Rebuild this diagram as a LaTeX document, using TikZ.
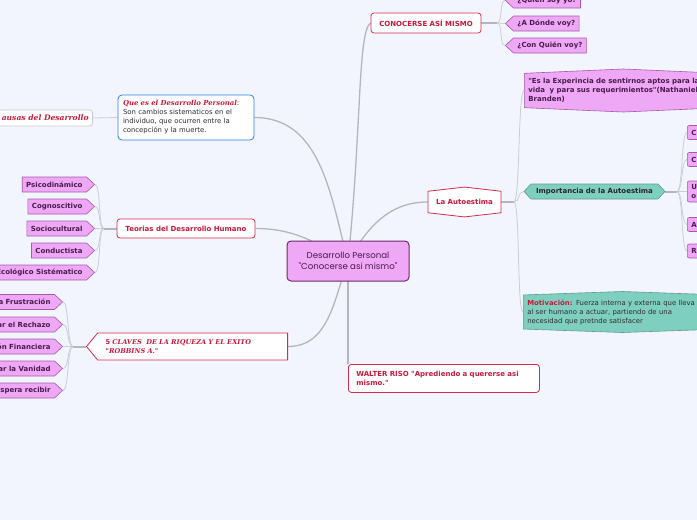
\documentclass[tikz,border=0pt]{standalone}
\usepackage{fontspec}
\newfontfamily\labf{DejaVu Sans}
\newfontfamily\serf{DejaVu Serif}
\newfontfamily\cenf{Poppins}
\usetikzlibrary{shapes.symbols,backgrounds}
\definecolor{bgc}{HTML}{F2F5FD}
\definecolor{redt}{HTML}{C8183C}
\definecolor{redb}{HTML}{D42C4C}
\definecolor{pinkf}{HTML}{EFA8F5}
\definecolor{pinkb}{HTML}{A45CA8}
\definecolor{purt}{HTML}{4A1A4E}
\definecolor{cenb}{HTML}{6A2A6C}
\definecolor{tealf}{HTML}{7FCFC0}
\definecolor{tealb}{HTML}{5E9A90}
\definecolor{blueb}{HTML}{2A80E6}
\definecolor{greyb}{HTML}{CACAD2}
\definecolor{linec}{HTML}{B6B6BA}
\definecolor{sublc}{HTML}{CDCDD2}
\definecolor{darkt}{HTML}{2E2E2E}
\tikzset{
 lab/.style={font=\labf\bfseries\fontsize{7}{9}\selectfont},
 redbox/.style={lab, draw=redb, fill=white, line width=0.8pt, rounded corners=3pt, text=redt, inner sep=0pt},
 pinkarrow/.style={lab, signal, draw=pinkb, fill=pinkf, line width=0.6pt, text=purt, minimum height=15pt, inner xsep=4pt, inner ysep=0pt, signal pointer angle=86},
 pinkL/.style={pinkarrow, signal to=west, anchor=west},
 pinkR/.style={pinkarrow, signal to=east, anchor=east},
 pinkbox/.style={lab, draw=pinkb, fill=pinkf, line width=0.6pt, rounded corners=2pt, text=purt, inner xsep=4pt, inner ysep=0pt, minimum height=14pt, text width=30pt, align=left, anchor=west},
 mainline/.style={draw=linec, line width=1.3pt},
 hubline/.style={draw=linec, line width=2pt},
 subline/.style={draw=sublc, line width=0.8pt},
 sc/.style={out=0,in=180,out distance=6pt,in distance=6pt},
 scl/.style={out=180,in=0,out distance=6pt,in distance=6pt},
}
\begin{document}
\begin{tikzpicture}[x=1pt,y=1pt]
\useasboundingbox (0,0) rectangle (697,-520);

% central
\node[draw=cenb, fill=pinkf, line width=1pt, rounded corners=4pt, minimum width=122pt, minimum height=40pt, align=center, text=purt, font=\cenf\fontsize{8.6}{11}\selectfont] (c) at (348,-261) {Desarrollo Personal\\"Conocerse asi mismo"};

% top branch
\node[redbox, minimum width=110pt, minimum height=20pt] (con) at (426,-23) {CONOCERSE ASÍ MISMO};
\node[pinkL] (q1) at (505,-0.5) {¿Quien soy yo?};
\node[pinkL] (q2) at (505,-23.5) {¿A Dónde voy?};
\node[pinkL] (q3) at (505,-45.5) {¿Con Quién voy?};

% que es
\node[draw=blueb, fill=white, line width=0.8pt, rounded corners=4pt, minimum width=136pt, minimum height=45pt, text width=126pt, align=left, inner sep=0pt, text=darkt, font=\labf\fontsize{6.9}{9}\selectfont] (que) at (186,-117.5) {{\serf\bfseries\itshape\color{redt}Que es el Desarrollo Personal}:\\Son cambios sistematicos en el\\individuo, que ocurren entre la\\concepción y la muerte.};
\node[draw=greyb, fill=white, line width=0.8pt, rounded corners=3pt, anchor=east, minimum height=16pt, inner xsep=4pt, inner ysep=0pt, text=redt, font=\serf\bfseries\itshape\fontsize{7.6}{9}\selectfont] (cau) at (93,-118) {ausas del Desarrollo};

% teorias
\node[redbox, minimum width=138pt, minimum height=19pt] (teo) at (186,-228.5) {Teorias del Desarrollo Humano};
\node[pinkR] (t1) at (95,-184.5) {Psicodinámico};
\node[pinkR] (t2) at (95,-206.5) {Cognoscitivo};
\node[pinkR] (t3) at (95,-228.5) {Sociocultural};
\node[pinkR] (t4) at (95,-250.5) {Conductista};
\node[pinkR] (t5) at (95,-272.5) {Ecológico Sistématico};

% 5 claves
\node[signal, signal to=west, signal pointer angle=101, draw=redb, fill=white, line width=0.8pt, anchor=west, text width=174pt, align=left, inner xsep=8pt, inner ysep=0pt, minimum height=27pt, text=redt, font=\serf\bfseries\itshape\fontsize{6.6}{8.5}\selectfont] (cla) at (86,-346.5) {{\labf\upshape 5} CLAVES\ \ DE LA RIQUEZA Y EL EXITO\\"ROBBINS A."};
\node[pinkR] (k1) at (63,-302) {a Frustración};
\node[pinkR] (k2) at (63,-324.5) {ar el Rechazo};
\node[pinkR] (k3) at (63,-346.5) {ón Financiera};
\node[pinkR] (k4) at (63,-368.5) {ar la Vanidad};
\node[pinkR] (k5) at (63,-390.5) {espera recibir};

% walter
\node[redbox, anchor=north west, minimum width=191pt, minimum height=28pt, text width=175pt, align=left] (wal) at (348,-364) {WALTER RISO "Aprediendo a quererse asi\\mismo."};

% autoestima
\node[lab, signal, signal to=north and south, signal pointer angle=167, draw=redb, fill=white, line width=0.8pt, text=redt, minimum width=73pt, minimum height=28pt, inner sep=0pt] (la) at (464.5,-202) {La Autoestima};
\node[lab, signal, signal to=north and south, signal pointer angle=175, draw=pinkb, fill=pinkf, line width=0.6pt, text=purt, anchor=west, text width=190pt, align=left, inner xsep=4pt, minimum height=43pt] (exp) at (524,-90.5) {"Es la Experincia de sentirnos aptos para la\\vida\ \ y para sus requerimientos"(Nathaniel\\Branden)};
\node[lab, signal, signal to=west and east, signal pointer angle=94, draw=tealb, fill=tealf, line width=0.6pt, text=black!85, minimum height=15pt, inner xsep=4pt, inner ysep=0pt, minimum width=141pt] (imp) at (594.5,-191.5) {Importancia de la Autoestima};
\node[signal, signal to=north and south, signal pointer angle=176, draw=tealb, fill=tealf, line width=0.6pt, text=darkt, font=\labf\fontsize{6.9}{9}\selectfont, anchor=west, text width=190pt, align=left, inner xsep=4pt, minimum height=41pt] (mot) at (523,-312) {{\bfseries\color{redt}Motivación:} Fuerza interna y externa que lleva\\al ser humano a actuar, partiendo de una\\necesidad que pretnde satisfacer};
\node[pinkbox] (i1) at (687,-132.5) {C};
\node[pinkbox] (i2) at (687,-159.5) {C};
\node[pinkbox, minimum height=21pt] (i3) at (687,-191.5) {U\\o};
\node[pinkbox] (i4) at (687,-224.5) {A};
\node[pinkbox] (i5) at (687,-251) {R};

% hubs
\coordinate (hc) at (497,-23);
\coordinate (ht) at (104,-228.5);
\coordinate (hk) at (73,-346.5);
\coordinate (hl) at (514,-202);
\coordinate (hi) at (677,-191.5);

\begin{pgfonlayer}{background}
\fill[bgc] (0,0) rectangle (697,-520);
\draw[mainline] (c.center) to[out=84,in=210,out distance=130pt,in distance=15pt] (con.west);
\draw[mainline] (que.east) to[out=0,in=105] (c.center);
\draw[mainline] (teo.east) to[out=0,in=150] (c.center);
\draw[mainline] (la.west) to[out=180,in=60] (c.center);
\draw[mainline] (cla.east) to[out=0,in=-110] (c.center);
\draw[mainline] (c.center) -- (wal.north west);

\draw[subline] (que.west) -- (cau.east);
\draw[hubline] (con.east) -- (hc);
\foreach \n in {q1,q2,q3} \draw[subline] (hc) to[sc] (\n.west);
\draw[hubline] (teo.west) -- (ht);
\foreach \n in {t1,t2,t3,t4,t5} \draw[subline] (ht) to[scl] (\n.east);
\draw[hubline] (cla.west) -- (hk);
\foreach \n in {k1,k2,k3,k4,k5} \draw[subline] (hk) to[scl] (\n.east);
\draw[hubline] (la.east) -- (hl);
\foreach \n in {exp,imp,mot} \draw[subline] (hl) to[sc] (\n.west);
\draw[hubline] (imp.east) -- (hi);
\foreach \n in {i1,i2,i3,i4,i5} \draw[subline] (hi) to[sc] (\n.west);
\end{pgfonlayer}
\end{tikzpicture}
\end{document}
